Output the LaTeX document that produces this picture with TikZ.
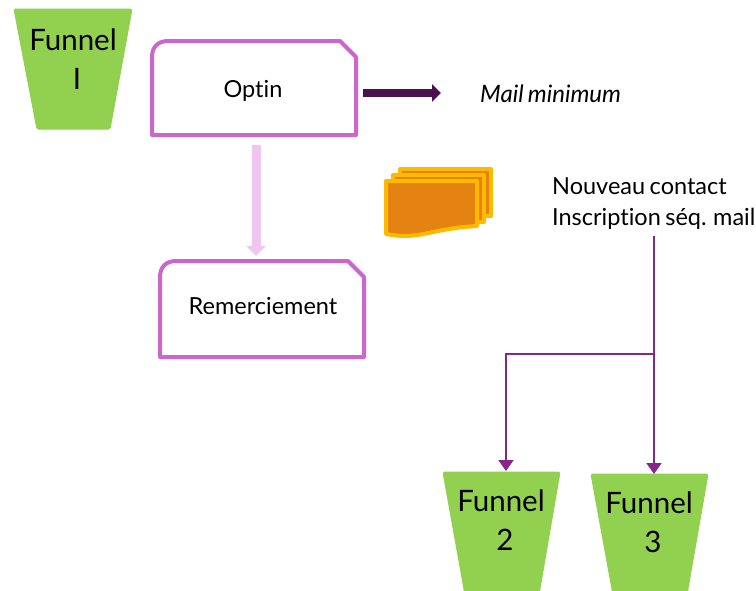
\documentclass[tikz,border=0pt]{standalone}
\usepackage{fontspec}
\setmainfont[Ligatures=NoCommon,WordSpace=0.75]{Lato}
\usetikzlibrary{arrows.meta}
\definecolor{fgreen}{HTML}{92D050}
\definecolor{boxpink}{HTML}{CC66CF}
\definecolor{lightpink}{HTML}{F0C6F0}
\definecolor{darkpurple}{HTML}{4A1050}
\definecolor{linepurple}{HTML}{85278A}
\definecolor{docfill}{HTML}{E48312}
\definecolor{docline}{HTML}{FFBA00}
\tikzset{
  x=1pt,y=-1pt,
  funnelshape/.style={fill=fgreen,draw=fgreen,line width=1pt,rounded corners=1.5pt},
  funneltext/.style={font=\fontsize{29.5}{38}\selectfont,align=center,text=black,inner sep=0pt},
  boxshape/.style={draw=boxpink,line width=4pt,fill=white,line join=round},
  boxtext/.style={font=\fontsize{23.5}{28}\selectfont,text=black,inner sep=0pt},
  area/.style={inner sep=0pt,outer sep=0pt,draw=none},
  docsheet/.style={fill=docfill,draw=docline,line width=4pt,line join=round},
  flow/.style={draw=linepurple,line width=2pt,-{Triangle[length=11pt,width=15pt]}},
}
\begin{document}
\begin{tikzpicture}
\useasboundingbox (0,0) rectangle (756,590);
\clip (0,0) rectangle (756,590);
% funnels
\draw[funnelshape] (14,9) -- (132,9) -- (110,129) -- (37,129) -- cycle;
\draw[funnelshape] (443,472) -- (560,472) -- (538,600) -- (466,600) -- cycle;
\draw[funnelshape] (591,474) -- (708,474) -- (686,600) -- (614,600) -- cycle;
\node[funneltext] (f1) at (73,59) {Funnel\\[1pt]\hspace*{8pt}I};
\node[funneltext] (f2) at (501,520) {Funnel\\[1pt]\hspace*{8pt}2};
\node[funneltext] (f3) at (649,522) {Funnel\\[1pt]\hspace*{8pt}3};
% boxes
\draw[boxshape] (152,135) -- (152,57) .. controls (152,47) and (158,41) .. (168,41) -- (340,41) -- (356,57) -- (356,135) -- cycle;
\draw[boxshape] (160,357) -- (160,277) .. controls (160,267) and (166,261) .. (176,261) -- (348,261) -- (364,277) -- (364,357) -- cycle;
\node[area,minimum width=204pt,minimum height=94pt] (optin) at (254,88) {};
\node[area,minimum width=204pt,minimum height=96pt] (rem) at (262,309) {};
\node[boxtext] (optintext) at (253,91) {Optin};
\node[boxtext] (remtext) at (263,306) {Remerciement};
% arrows from the boxes
\coordinate (mailend) at (441,93);
\draw[darkpurple,line width=7.5pt,-{Triangle[length=9pt,width=17pt]},shorten <=7pt] (optin.east |- mailend) -- (mailend);
\draw[lightpink,line width=9pt,-{Triangle[length=10pt,width=19pt]},shorten <=10pt,shorten >=5pt] (optin.south -| 256,0) -- (rem.north -| 256,0);
\node[boxtext,font=\itshape\fontsize{24}{28}\selectfont,anchor=west] (mail) at (480,94) {Mail minimum};
% document stack
\draw[docsheet] (400,169) -- (491,169) -- (491,216) -- (400,216) -- cycle;
\draw[docsheet] (393,175) -- (484,175) -- (484,222) -- (393,222) -- cycle;
\draw[docsheet] (386,181) -- (477,181) -- (477,226) .. controls (440,228) and (425,236) .. (405,236) .. controls (398,236) and (392,235) .. (386,234) -- cycle;
% labels and connectors
\node[boxtext,font=\fontsize{23.5}{31}\selectfont,align=left,anchor=north west] (contact) at (552,177) {Nouveau contact\\Inscription séq. mail};
\coordinate (drop) at (654,236);
\coordinate (split) at (654,354);
\draw[linepurple,line width=2pt] (drop) -- (split);
\draw[flow] (split) -| (506,471);
\draw[flow] (split) -- (654,474);
\end{tikzpicture}
\end{document}
